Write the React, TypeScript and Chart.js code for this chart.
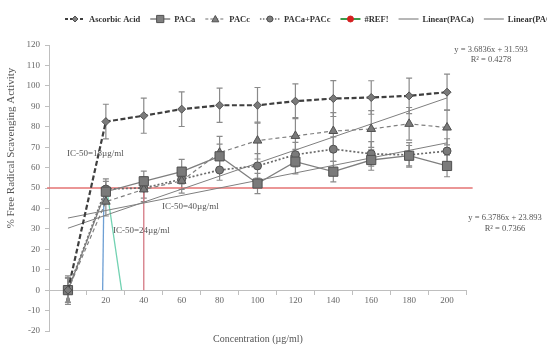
import React, { useEffect, useRef } from "react";
import { Chart, registerables } from "chart.js";
Chart.register(...registerables);

// ---- data ----
const categories = ["0", "20", "40", "60", "80", "100", "120", "140", "160", "180", "200"];
const ascorbic = [0, 82.5, 85.4, 88.6, 90.5, 90.5, 92.5, 93.8, 94.3, 95.1, 96.9];
const ascorbicErr = [7, 8.5, 8.6, 8.5, 8.4, 8.7, 8.5, 8.8, 8.2, 8.7, 8.8];
const paca = [0, 48.2, 53.3, 58, 65.5, 52.2, 62.9, 58, 63.7, 65.8, 60.8];
const pacaErr = [6, 5, 5, 6, 6, 5, 6, 5, 5, 5, 5.3];
const pacc = [0, 43.3, 49.3, 53.5, 67.3, 73.2, 75.5, 77.9, 78.9, 81.4, 79.6];
const paccErr = [6, 7, 6, 6, 8, 9, 9, 9, 9, 8, 8.5];
const combo = [0, 49.5, 50, 54.3, 58.8, 60.8, 66.3, 69, 66.7, 66.2, 68.1];
const comboErr = [6, 5, 5, 5, 5, 6, 6, 6, 6, 6, 6];

// trendlines (endpoints at first and last concentration)
const trendConc = [0, 200];
const trendPACa = [35.3, 72.1];
const trendPACc = [30.3, 94.1];

// IC-50 reference lines (#REF!)
const refLevel = 50;
const refHLine = [-11, 213.5];
const icBottomConc = [18.3, 28.3, 40];
const icTopConc = [19, 20.4, 40];
const icColors = ["#6d9fd4", "#72d2b2", "#d47883"];

const legendItems = [
  { label: "Ascorbic Acid", color: "#3f3f3f", width: 2, dash: [3, 2], point: "rectRot", pr: 3 },
  { label: "PACa", color: "#6f6f6f", width: 1.3, dash: [], point: "rect", pr: 4.5 },
  { label: "PACc", color: "#6f6f6f", width: 1.2, dash: [3, 2], point: "triangle", pr: 3.5 },
  { label: "PACa+PACc", color: "#6f6f6f", width: 1.5, dash: [1.5, 1.5], point: "circle", pr: 3 },
  { label: "#REF!", color: "#3c9a4a", width: 2, dash: [], point: "circle", pr: 3, pcolor: "#d42020" },
  { label: "Linear(PACa)", color: "#6f6f6f", width: 1, dash: [], point: "", pr: 0 },
  { label: "Linear(PACc)", color: "#6f6f6f", width: 1, dash: [], point: "", pr: 0 },
];

const SERIF = "'Liberation Serif', 'DejaVu Serif', serif";

const errorBarPlugin = {
  id: "errbars",
  beforeDatasetsDraw(chart: any) {
    const { ctx } = chart;
    const x = chart.scales.x;
    const y = chart.scales.y;
    const sets = [
      [ascorbic, ascorbicErr],
      [paca, pacaErr],
      [pacc, paccErr],
      [combo, comboErr],
    ];
    ctx.save();
    ctx.strokeStyle = "#8a8a8a";
    ctx.lineWidth = 1.2;
    sets.forEach(([vals, errs]) => {
      vals.forEach((v: number, i: number) => {
        const px = x.getPixelForValue(i);
        const top = y.getPixelForValue(v + errs[i]);
        const bot = y.getPixelForValue(v - errs[i]);
        ctx.beginPath();
        ctx.moveTo(px, top);
        ctx.lineTo(px, bot);
        ctx.moveTo(px - 3, top);
        ctx.lineTo(px + 3, top);
        ctx.moveTo(px - 3, bot);
        ctx.lineTo(px + 3, bot);
        ctx.stroke();
      });
    });
    ctx.restore();
  },
};

function drawMarker(ctx: any, style: string, x: number, y: number, r: number, fill: string, stroke: string) {
  if (!style) return;
  ctx.save();
  ctx.fillStyle = fill;
  ctx.strokeStyle = stroke;
  ctx.lineWidth = 1;
  ctx.setLineDash([]);
  ctx.beginPath();
  if (style === "circle") {
    ctx.arc(x, y, r, 0, Math.PI * 2);
  } else if (style === "rect") {
    ctx.rect(x - r * 0.8, y - r * 0.8, r * 1.6, r * 1.6);
  } else if (style === "rectRot") {
    ctx.moveTo(x - r, y);
    ctx.lineTo(x, y - r);
    ctx.lineTo(x + r, y);
    ctx.lineTo(x, y + r);
    ctx.closePath();
  } else if (style === "triangle") {
    ctx.moveTo(x, y - r);
    ctx.lineTo(x + r, y + r * 0.8);
    ctx.lineTo(x - r, y + r * 0.8);
    ctx.closePath();
  }
  ctx.fill();
  ctx.stroke();
  ctx.restore();
}

const textPlugin = {
  id: "texts",
  afterDraw(chart: any) {
    const { ctx } = chart;
    ctx.save();
    // legend
    ctx.font = `bold 8.5px ${SERIF}`;
    ctx.textBaseline = "middle";
    ctx.textAlign = "left";
    let lx = 65;
    const ly = 19;
    legendItems.forEach((it) => {
      ctx.save();
      ctx.strokeStyle = it.color;
      ctx.lineWidth = it.width;
      ctx.setLineDash(it.dash);
      ctx.beginPath();
      ctx.moveTo(lx, ly);
      ctx.lineTo(lx + 20, ly);
      ctx.stroke();
      ctx.restore();
      drawMarker(ctx, it.point, lx + 10, ly, it.pr, (it as any).pcolor || "#7f7f7f", (it as any).pcolor || "#505050");
      ctx.fillStyle = "#333333";
      ctx.fillText(it.label, lx + 24, ly + 0.5);
      lx += 24 + ctx.measureText(it.label).width + 10;
    });

    // axis titles
    ctx.fillStyle = "#555555";
    ctx.font = `10px ${SERIF}`;
    ctx.textAlign = "center";
    ctx.fillText("Concentration (\u00b5g/ml)", 258, 339);
    ctx.save();
    ctx.translate(11, 148);
    ctx.rotate(-Math.PI / 2);
    ctx.font = `11px ${SERIF}`;
    ctx.fillText("% Free Radical Scavenging Activity", 0, 0);
    ctx.restore();

    // annotations
    ctx.font = `9px ${SERIF}`;
    ctx.fillStyle = "#555555";
    ctx.textAlign = "left";
    ctx.fillText("IC-50=18\u00b5g/ml", 67, 154);
    ctx.fillText("IC-50=40\u00b5g/ml", 162, 207);
    ctx.fillText("IC-50=24\u00b5g/ml", 113, 231);

    ctx.font = `8.5px ${SERIF}`;
    ctx.textAlign = "center";
    ctx.fillText("y = 3.6836x + 31.593", 491, 50);
    ctx.fillText("R\u00b2 = 0.4278", 491, 60);
    ctx.fillText("y = 6.3786x + 23.893", 505, 218);
    ctx.fillText("R\u00b2 = 0.7366", 505, 229);
    ctx.restore();
  },
};

export default function App() {
  const ref = useRef<HTMLCanvasElement | null>(null);
  useEffect(() => {
    if (!ref.current) return;
    const seriesBase = {
      xAxisID: "x",
      pointBorderWidth: 1,
      pointBorderColor: "#505050",
      pointBackgroundColor: "#7a7a7a",
      tension: 0,
    };
    const datasets: any[] = [
      {
        ...seriesBase,
        label: "Ascorbic Acid",
        data: ascorbic,
        borderColor: "#3f3f3f",
        borderWidth: 2.2,
        borderDash: [5, 2.5],
        pointStyle: "rectRot",
        pointRadius: 4,
      },
      {
        ...seriesBase,
        label: "PACa",
        data: paca,
        borderColor: "#7f7f7f",
        borderWidth: 1.3,
        pointStyle: "rect",
        pointRadius: 6.5,
      },
      {
        ...seriesBase,
        label: "PACc",
        data: pacc,
        borderColor: "#7f7f7f",
        borderWidth: 1.2,
        borderDash: [4, 3],
        pointStyle: "triangle",
        pointRadius: 5,
      },
      {
        ...seriesBase,
        label: "PACa+PACc",
        data: combo,
        borderColor: "#6a6a6a",
        borderWidth: 1.7,
        borderDash: [2, 2],
        pointStyle: "circle",
        pointRadius: 4,
      },
      {
        label: "Linear(PACa)",
        xAxisID: "xl",
        data: trendConc.map((c, i) => ({ x: c, y: trendPACa[i] })),
        borderColor: "#7f7f7f",
        borderWidth: 1,
        pointRadius: 0,
      },
      {
        label: "Linear(PACc)",
        xAxisID: "xl",
        data: trendConc.map((c, i) => ({ x: c, y: trendPACc[i] })),
        borderColor: "#7f7f7f",
        borderWidth: 1,
        pointRadius: 0,
      },
      {
        label: "#REF!",
        xAxisID: "xl",
        data: refHLine.map((c) => ({ x: c, y: refLevel })),
        borderColor: "#e57373",
        borderWidth: 1.3,
        pointRadius: 0,
        clip: false,
      },
      ...icBottomConc.map((c, i) => ({
        label: "ic" + i,
        xAxisID: "xl",
        data: [
          { x: c, y: 0 },
          { x: icTopConc[i], y: refLevel },
        ],
        borderColor: icColors[i],
        borderWidth: 1.3,
        pointRadius: 0,
        clip: false,
      })),
    ];
    const chart = new Chart(ref.current, {
      type: "line",
      data: { labels: categories, datasets },
      options: {
        animation: false,
        responsive: false,
        layout: { padding: { top: 45, right: 81, bottom: 14, left: 0 } },
        plugins: { legend: { display: false }, tooltip: { enabled: false }, title: { display: false } },
        scales: {
          x: {
            type: "category",
            offset: true,
            position: { y: 0 } as any,
            grid: { offset: true, drawOnChartArea: false, drawTicks: true, tickLength: 4, color: "#bfbfbf" },
            border: { color: "#bfbfbf" },
            ticks: {
              font: { family: SERIF, size: 9 },
              color: "#666666",
              maxRotation: 0,
              autoSkip: false,
              padding: 1,
            },
          },
          xl: { type: "linear", min: -10, max: 210, display: false },
          y: {
            min: -20,
            max: 120,
            ticks: { stepSize: 10, font: { family: SERIF, size: 9 }, color: "#666666", padding: 5 },
            grid: { drawOnChartArea: false, tickLength: 4, color: "#bfbfbf" },
            border: { color: "#bfbfbf" },
            afterFit: (s: any) => {
              s.width = 49;
            },
          },
        },
      },
      plugins: [errorBarPlugin, textPlugin],
    } as any);
    return () => chart.destroy();
  }, []);
  return (
    <div style={{ position: "absolute", left: 0, top: 0, width: 547, height: 345, background: "#fff" }}>
      <canvas ref={ref} width={547} height={345} style={{ display: "block" }} />
    </div>
  );
}
